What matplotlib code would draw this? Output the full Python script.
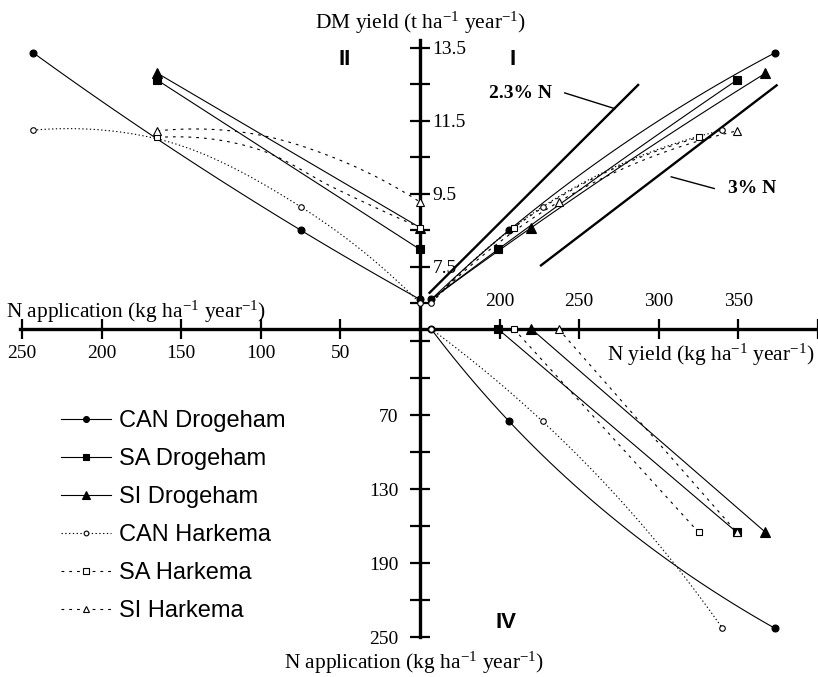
import numpy as np
import matplotlib
matplotlib.use('Agg')
import matplotlib.pyplot as plt
from matplotlib.lines import Line2D

plt.rcParams['font.family'] = 'Liberation Serif'
plt.rcParams['mathtext.default'] = 'regular'

# measured points: N application, N yield, DM yield
names = ['CAN Drogeham', 'SA Drogeham', 'SI Drogeham', 'CAN Harkema', 'SA Harkema', 'SI Harkema']
n_app = [[0, 75, 243], [0, 165], [0, 165], [0, 75, 243], [0, 165], [0, 165]]
n_yield = [[157, 206, 373], [199, 349], [220, 367], [157, 227, 340], [209, 325], [237, 349]]
dm_yield = [[6.6, 8.5, 13.36], [7.97, 12.61], [8.57, 12.8],
            [6.5, 9.14, 11.24], [8.57, 11.04], [9.27, 11.22]]

# unfertilised control where the quadrant I curves start (N yield, DM yield)
ctrl = {'Drogeham': (157, 6.6), 'Harkema': (157, 6.5)}

# quadrant II Harkema curves
hk_app_path = [[243, 165, 75, 0], [165, 100, 55, 0], [165, 100, 55, 0]]
hk_dm_path = [[11.24, 11.0, 9.14, 6.5], [11.04, 10.69, 9.68, 8.57], [11.22, 11.1, 10.5, 9.27]]

# N concentration lines (percent N in DM) and their N yield extent
ref_pct = [2.3, 3.0]
ref_ny = [[156, 287], [226, 374]]

styles = [
    dict(ls='-', marker='o', mfc='black', ms=5),
    dict(ls='-', marker='s', mfc='black', ms=5.5),
    dict(ls='-', marker='^', mfc='black', ms=6.5),
    dict(ls=(0, (1.2, 2.2)), marker='o', mfc='white', ms=4),
    dict(ls=(0, (2.5, 4.5)), marker='s', mfc='white', ms=4.5),
    dict(ls=(0, (2.5, 4.5)), marker='^', mfc='white', ms=5.5),
]


def smooth(ax, x, y, n=30):
    # smoothed line through the points (Hermite spline in screen space)
    if len(x) < 3:
        return x, y
    p = ax.transData.transform(np.column_stack([x, y]).astype(float))
    v = np.diff(p, axis=0)
    d = np.hypot(v[:, 0], v[:, 1])
    u = v / d[:, None]
    m = np.zeros_like(p)
    for i in range(1, len(p) - 1):
        m[i] = (d[i] * u[i - 1] + d[i - 1] * u[i]) / (d[i - 1] + d[i])
    m[0] = 2 * u[0] - m[1]
    m[-1] = 2 * u[-1] - m[-2]
    s = np.linspace(0, 1, n)[:, None]
    h00 = 2 * s ** 3 - 3 * s ** 2 + 1
    h10 = s ** 3 - 2 * s ** 2 + s
    h01 = -2 * s ** 3 + 3 * s ** 2
    h11 = s ** 3 - s ** 2
    out = np.vstack([h00 * p[i] + h10 * d[i] * m[i] + h01 * p[i + 1] + h11 * d[i] * m[i + 1]
                     for i in range(len(p) - 1)])
    out = ax.transData.inverted().transform(out)
    return out[:, 0], out[:, 1]


def draw(ax, lx, ly, mx, my, st):
    sx, sy = smooth(ax, lx, ly)
    ax.plot(sx, sy, color='black', lw=0.8, ls=st['ls'], clip_on=False, zorder=3)
    ax.plot(mx, my, ls='none', marker=st['marker'], mfc=st['mfc'], mec='black',
            ms=st['ms'], mew=0.8, clip_on=False, zorder=4)


W, H = 818, 677
fig = plt.figure(figsize=(W / 100, H / 100), dpi=100)


def box(x0, y0, x1, y1):
    return [x0 / W, 1 - y1 / H, (x1 - x0) / W, (y1 - y0) / H]


ax2 = fig.add_axes(box(20, 40, 420, 329))
ax4 = fig.add_axes(box(420, 329, 818, 637))
ax1 = fig.add_axes(box(420, 40, 818, 329))
for ax in (ax1, ax2, ax4):
    ax.patch.set_visible(False)

ax1.set_xlim(150, 400)
ax1.set_ylim(5.79, 13.71)
ax2.set_xlim(251.3, 0)
ax2.set_ylim(5.79, 13.71)
ax4.set_xlim(150, 400)
ax4.set_ylim(250, 0)

# quadrant I: DM yield vs N yield
ax1.axis('off')
for i, name in enumerate(names):
    c = ctrl[name.split()[1]]
    if n_yield[i][0] == c[0]:
        lx, ly = n_yield[i], dm_yield[i]
    else:
        lx, ly = [c[0]] + n_yield[i], [c[1]] + dm_yield[i]
    draw(ax1, lx, ly, n_yield[i], dm_yield[i], styles[i])
for pct, (a, b) in zip(ref_pct, ref_ny):
    xs = np.array([a, b])
    ax1.plot(xs, xs / (pct * 10), color='black', lw=1.7, zorder=2)
ax1.plot([240.9, 272.3], [12.26, 11.83], color='black', lw=1)
ax1.plot([307.8, 334.8], [9.96, 9.64], color='black', lw=1)
ax1.text(213, 12.12, '2.3% N', ha='center', va='baseline', weight='bold', size=14)
ax1.text(358.8, 9.51, '3% N', ha='center', va='baseline', weight='bold', size=14)
ax1.text(208, 13.02, 'I', ha='center', va='baseline', family='Liberation Sans',
         weight='bold', size=16)

# quadrant II: DM yield vs N application
for i in range(6):
    if i >= 3:
        lx, ly = hk_app_path[i - 3], hk_dm_path[i - 3]
    else:
        lx, ly = n_app[i], dm_yield[i]
    draw(ax2, lx, ly, n_app[i], dm_yield[i], styles[i])
ax2.text(47.1, 13.02, 'II', ha='center', va='baseline', family='Liberation Sans',
         weight='bold', size=16)
for s in ('top', 'left'):
    ax2.spines[s].set_visible(False)
for s in ('bottom', 'right'):
    ax2.spines[s].set_linewidth(2.4)
ax2.yaxis.tick_right()
ax2.set_xticks([250, 200, 150, 100, 50])
ax2.set_xticklabels(['250', '200', '150', '100', '50'])
ax2.set_yticks([6.5, 7.5, 8.5, 9.5, 10.5, 11.5, 12.5, 13.5])
ax2.set_yticklabels(['', '7.5', '', '9.5', '', '11.5', '', '13.5'])
ax2.tick_params(axis='both', direction='inout', length=15, width=1.6, labelsize=14)
ax2.tick_params(axis='x', pad=4)
ax2.tick_params(axis='y', pad=1.5)

# quadrant IV: N application vs N yield
for i in range(6):
    draw(ax4, n_yield[i], n_app[i], n_yield[i], n_app[i], styles[i])
ax4.text(204, 242.7, 'IV', ha='center', va='baseline', family='Liberation Sans',
         weight='bold', size=16)
for s in ('bottom', 'right'):
    ax4.spines[s].set_visible(False)
for s in ('top', 'left'):
    ax4.spines[s].set_linewidth(2.4)
ax4.xaxis.tick_top()
ax4.set_xticks([200, 250, 300, 350, 400])
ax4.set_xticklabels(['200', '250', '300', '350', ''])
ax4.set_yticks([10, 40, 70, 100, 130, 160, 190, 220, 250])
ax4.set_yticklabels(['', '', '70', '', '130', '', '190', '', '250'])
ax4.tick_params(axis='both', direction='inout', length=15, width=1.6, labelsize=14)
ax4.tick_params(axis='x', pad=6)
ax4.tick_params(axis='y', pad=8)

unit = r' (kg ha$^{-1}$ year$^{-1}$)'
fig.text(421 / W, 1 - 28.5 / H, r'DM yield (t ha$^{-1}$ year$^{-1}$)', ha='center',
         va='baseline', size=15.5)
fig.text(6 / W, 1 - 318 / H, 'N application' + unit, ha='left', va='baseline', size=15.5)
fig.text(815 / W, 1 - 360.5 / H, 'N yield' + unit, ha='right', va='baseline', size=15.5)
fig.text(414 / W, 1 - 669 / H, 'N application' + unit, ha='center', va='baseline', size=15.5)

handles = [Line2D([], [], color='black', lw=0.8, ls=st['ls'], marker=st['marker'],
                  mfc=st['mfc'], mec='black', ms=st['ms'] * 0.85, mew=0.8) for st in styles]
fig.legend(handles, names, loc='upper left', bbox_to_anchor=(61 / W, 1 - 410 / H),
           frameon=False, prop={'family': 'Liberation Sans', 'size': 17},
           handlelength=2.1, handletextpad=0.35, labelspacing=0.68,
           borderpad=0, borderaxespad=0)

fig.savefig('out.png', dpi=100)
